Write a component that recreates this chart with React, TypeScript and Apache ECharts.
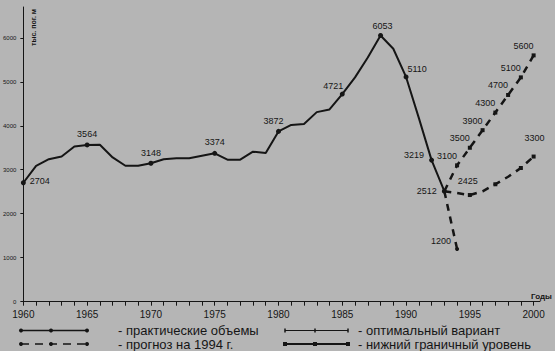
import React, { useEffect, useRef } from "react";
import * as echarts from "echarts";

const years = [1960, 1961, 1962, 1963, 1964, 1965, 1966, 1967, 1968, 1969, 1970, 1971, 1972, 1973, 1974, 1975, 1976, 1977, 1978, 1979, 1980, 1981, 1982, 1983, 1984, 1985, 1986, 1987, 1988, 1989, 1990, 1991, 1992, 1993];
const practical = [2704, 3090, 3240, 3300, 3530, 3564, 3570, 3280, 3090, 3090, 3148, 3240, 3260, 3260, 3320, 3374, 3230, 3230, 3410, 3380, 3872, 4020, 4040, 4310, 4370, 4721, 5100, 5550, 6053, 5750, 5110, 4180, 3219, 2512];
const practicalLabeled = [1960, 1965, 1970, 1975, 1980, 1985, 1988, 1990, 1992, 1993];

const forecastYears = [1993, 1994];
const forecast = [2512, 1200];

const planYears = [1993, 1994, 1995, 1996, 1997, 1998, 1999, 2000];
const optimal = [2512, 3100, 3500, 3900, 4300, 4700, 5100, 5600];
const optimalLabeled = [1994, 1995, 1996, 1997, 1998, 1999, 2000];
const lower = [2512, 2470, 2425, 2510, 2670, 2840, 3040, 3300];
const lowerLabeled = [1995, 2000];

const yTicks = [0, 1000, 2000, 3000, 4000, 5000, 6000];
const xTickYears = [1960, 1961, 1962, 1963, 1964, 1965, 1966, 1967, 1968, 1969, 1970, 1971, 1972, 1973, 1974, 1975, 1976, 1977, 1978, 1979, 1980, 1981, 1982, 1983, 1984, 1985, 1986, 1987, 1988, 1989, 1990, 1991, 1992, 1993, 1994, 1995, 1996, 1997, 1998, 1999, 2000];
const xLabels = [1960, 1965, 1970, 1975, 1980, 1985, 1990, 1995, 2000];

const legendItems = [
  "- практические объемы",
  "- прогноз на 1994 г.",
  "- оптимальный вариант",
  "- нижний граничный уровень",
];
const yAxisName = "тыс. пог. м";
const xAxisName = "Годы";

// label placement (style only)
const mainLabelPos: Record<number, any> = {
  1960: { position: "right", offset: [0, -2] },
  1965: { position: "top", offset: [0, 0] },
  1970: { position: "top", offset: [0, 1] },
  1975: { position: "top", offset: [0, 0] },
  1980: { position: "top", offset: [-5, 1] },
  1985: { position: "top", offset: [-9, 3] },
  1988: { position: "top", offset: [2, 2] },
  1990: { position: "top", offset: [11, 3] },
  1992: { position: "left", offset: [-1, -5] },
  1993: { position: "left", offset: [-1, 0] },
};

const INK = "#151515";
const BG = "#b5b5b5";
const FONT = "Liberation Sans";

export default function App() {
  const ref = useRef<HTMLDivElement>(null);
  useEffect(() => {
    if (!ref.current) return;
    const chart = echarts.init(ref.current, null, { renderer: "svg" });
    const labelBase = { show: true, color: INK, fontSize: 9, fontFamily: FONT, distance: 4 };

    const mainData = years.map((y, i) => {
      const lab = practicalLabeled.includes(y);
      return {
        value: [y, practical[i]],
        symbolSize: lab ? 5 : 0,
        label: lab ? { ...labelBase, ...mainLabelPos[y] } : { show: false },
      };
    });
    const optData = planYears.map((y, i) => ({
      value: [y, optimal[i]],
      symbolSize: optimalLabeled.includes(y) ? 4 : 0,
      label: optimalLabeled.includes(y)
        ? { ...labelBase, position: "top", offset: [-10, 1] }
        : { show: false },
    }));
    const lowData = planYears.map((y, i) => ({
      value: [y, lower[i]],
      symbolSize: (i > 0 && i % 2 === 0) || y === 2000 ? 4 : 0,
      label: lowerLabeled.includes(y)
        ? { ...labelBase, position: "top", offset: y === 2000 ? [1, -8] : [-2, -4] }
        : { show: false },
    }));
    const fcData = forecastYears.map((y, i) => ({
      value: [y, forecast[i]],
      symbolSize: i === 1 ? 4 : 0,
      label: i === 1 ? { ...labelBase, position: "left", offset: [0, -8] } : { show: false },
    }));

    const lx1 = 21, lx2 = 87, rx1 = 285, rx2 = 348;
    const r1 = 330.5, r2 = 344;
    const textStyle = (t: string, x: number, y: number) => ({
      type: "text",
      x,
      y,
      style: { text: t, fill: INK, font: `13px "${FONT}"`, textVerticalAlign: "middle" },
    });

    const graphic: any[] = [
      {
        type: "text",
        x: 33,
        y: 46,
        rotation: Math.PI / 2,
        style: { text: yAxisName, fill: INK, font: `bold 7px "${FONT}"`, textVerticalAlign: "middle" },
      },
      {
        type: "text",
        x: 531,
        y: 296,
        style: { text: xAxisName, fill: INK, font: `bold 8px "${FONT}"`, textVerticalAlign: "middle" },
      },
      { type: "line", shape: { x1: lx1, y1: r1, x2: lx2, y2: r1 }, style: { stroke: INK, lineWidth: 1.5 } },
      ...[lx1, 51, lx2].map((x) => ({ type: "circle", shape: { cx: x, cy: r1, r: 2 }, style: { fill: INK } })),
      textStyle(legendItems[0], 118, r1),
      { type: "line", shape: { x1: lx1, y1: r2, x2: lx2, y2: r2 }, style: { stroke: INK, lineWidth: 1.5, lineDash: [8, 6] } },
      ...[lx1, 51, lx2].map((x) => ({ type: "circle", shape: { cx: x, cy: r2, r: 2 }, style: { fill: INK } })),
      textStyle(legendItems[1], 118, r2),
      { type: "line", shape: { x1: rx1, y1: r1, x2: rx2, y2: r1 }, style: { stroke: INK, lineWidth: 1 } },
      ...[rx1, 315, rx2].map((x) => ({ type: "line", shape: { x1: x, y1: r1 - 2, x2: x, y2: r1 + 2 }, style: { stroke: INK, lineWidth: 1.5 } })),
      textStyle(legendItems[2], 358, r1),
      { type: "line", shape: { x1: rx1, y1: r2, x2: rx2, y2: r2 }, style: { stroke: INK, lineWidth: 2 } },
      ...[rx1, 315, rx2].map((x) => ({ type: "rect", shape: { x: x - 2, y: r2 - 2, width: 4, height: 4 }, style: { fill: INK } })),
      textStyle(legendItems[3], 358, r2),
    ];

    chart.setOption({
      animation: false,
      backgroundColor: BG,
      grid: { left: 22, right: 15, top: 7, bottom: 49.3, containLabel: false },
      xAxis: {
        type: "value",
        min: 1960,
        max: 2000.5,
        interval: 5,
        axisLine: { lineStyle: { color: INK, width: 1 } },
        axisTick: { show: true, length: 4, lineStyle: { color: INK }, customValues: xTickYears },
        axisLabel: { color: INK, fontSize: 10, fontFamily: FONT, margin: 8, customValues: xLabels, formatter: (v: number) => String(v) },
        splitLine: { show: false },
      },
      yAxis: {
        type: "value",
        min: 0,
        max: 6700,
        interval: 1000,
        axisLine: { show: true, lineStyle: { color: INK, width: 1 } },
        axisTick: { show: true, length: 3, lineStyle: { color: INK }, customValues: yTicks },
        axisLabel: { color: INK, fontSize: 6, fontFamily: FONT, margin: 7, customValues: yTicks, formatter: (v: number) => String(v) },
        splitLine: { show: false },
      },
      graphic,
      series: [
        {
          type: "line",
          data: mainData,
          symbol: "circle",
          lineStyle: { color: INK, width: 2 },
          itemStyle: { color: INK },
          z: 5,
        },
        {
          type: "line",
          data: optData,
          symbol: "rect",
          lineStyle: { color: INK, width: 2.5, type: [7, 6] },
          itemStyle: { color: INK },
        },
        {
          type: "line",
          data: lowData,
          symbol: "rect",
          lineStyle: { color: INK, width: 2.5, type: [7, 6] },
          itemStyle: { color: INK },
        },
        {
          type: "line",
          data: fcData,
          symbol: "circle",
          lineStyle: { color: INK, width: 2.5, type: [7, 6] },
          itemStyle: { color: INK },
        },
      ],
    });
    return () => chart.dispose();
  }, []);
  return <div ref={ref} style={{ width: 555, height: 351, position: "absolute", left: 0, top: 0 }} />;
}
